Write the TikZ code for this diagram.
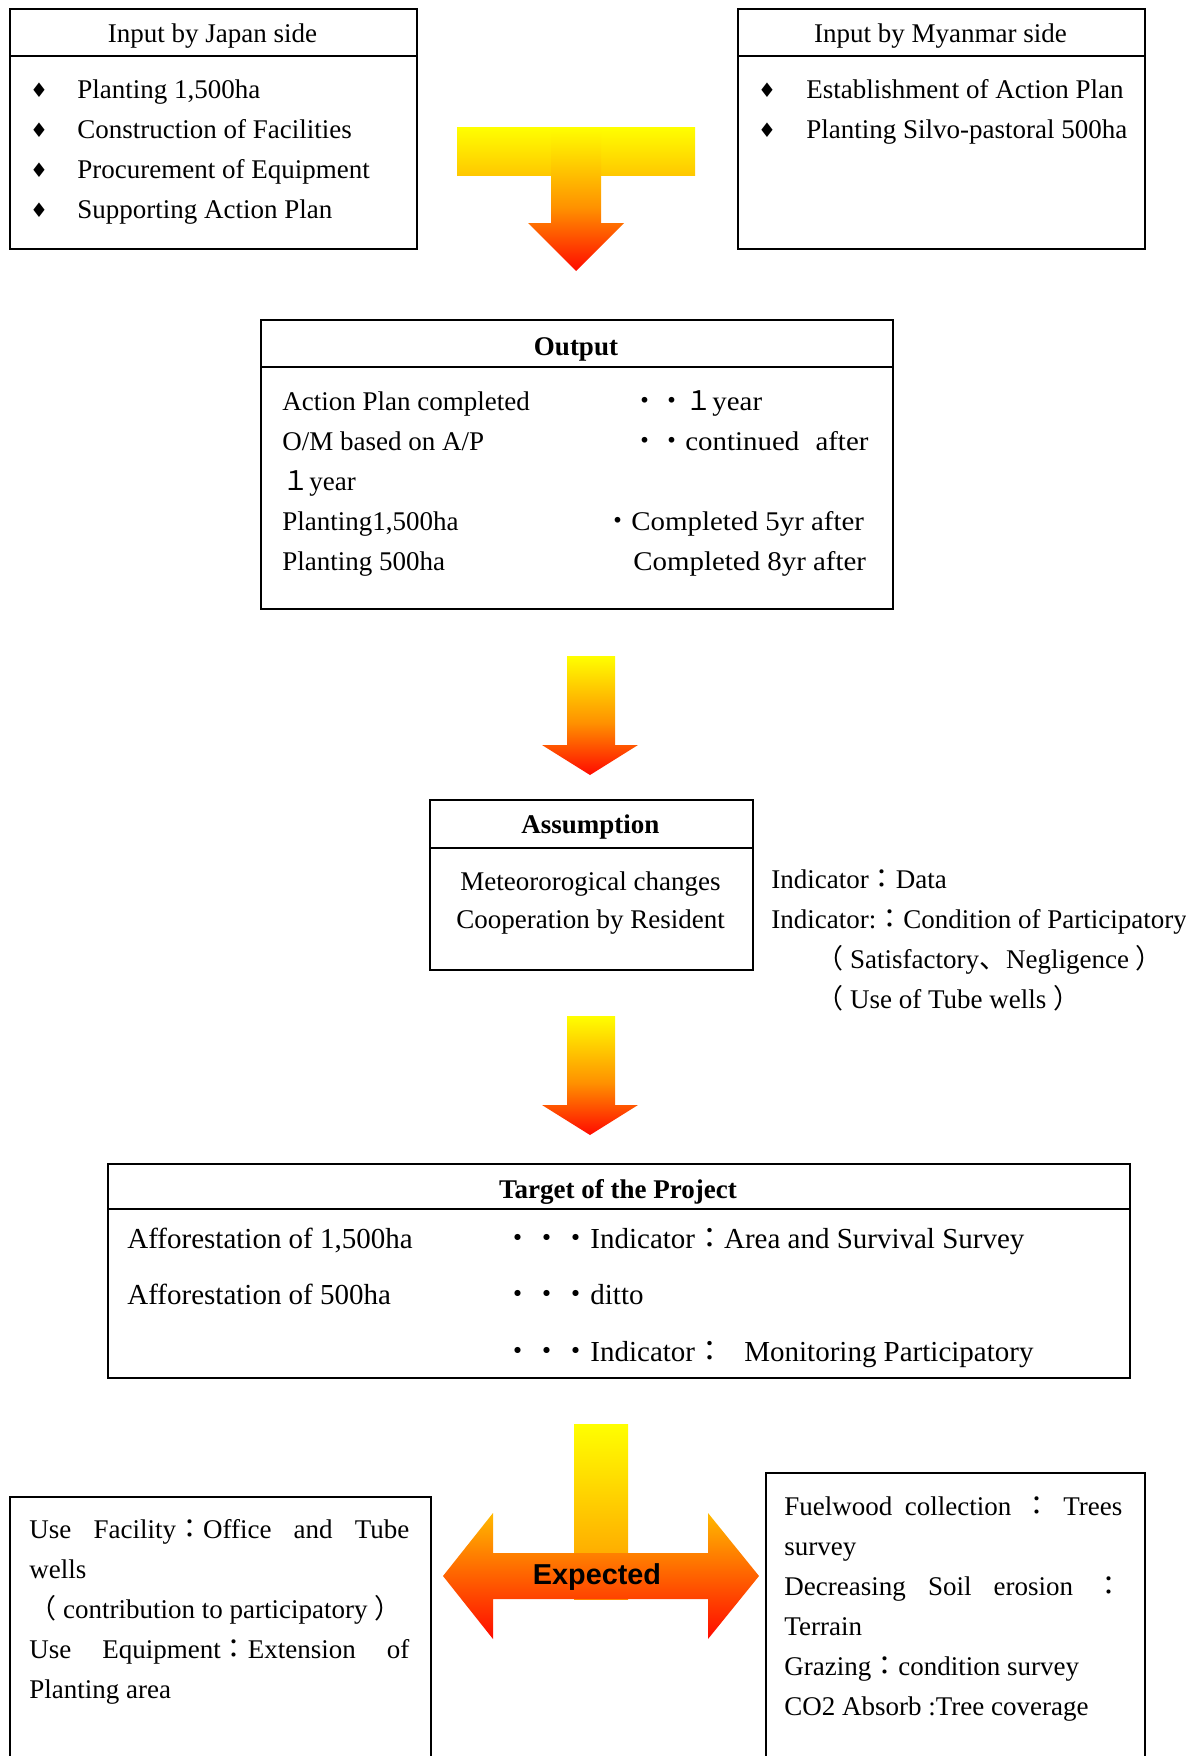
\documentclass[tikz,border=0pt]{standalone}
\usepackage{fontspec}
\setmainfont{Liberation Serif}
\newfontfamily\jpfont{Noto Sans CJK JP}
\newfontfamily\symfont{DejaVu Sans}
\newfontfamily\arialfont{Liberation Sans}
\newcommand{\jc}[1]{{\jpfont #1}}
\usepackage{tikz}
\usetikzlibrary{positioning}
\definecolor{fireyellow}{RGB}{255,255,0}
\definecolor{firegold}{RGB}{255,200,0}
\definecolor{fireamber}{RGB}{255,185,0}
\definecolor{fireorange}{RGB}{255,145,0}
\definecolor{firered}{RGB}{255,10,0}
\pgfdeclareverticalshading{fire}{100bp}{color(0bp)=(firered); color(25bp)=(firered); color(47bp)=(fireorange); color(75bp)=(fireyellow); color(100bp)=(fireyellow)}

\begin{document}
\begin{tikzpicture}[x=0.5pt, y=-0.5pt,
    box/.style={draw, line width=0.9pt, inner sep=0pt},
    divider/.style={line width=0.9pt},
    headtxt/.style={anchor=base, inner sep=0pt, font=\fontsize{13.5}{20}\selectfont},
    headbf/.style={headtxt, font=\fontsize{13.5}{20}\selectfont\bfseries},
    item/.style={anchor=base west, inner sep=0pt, font=\fontsize{13.5}{20}\selectfont},
    wideitem/.style={item, font=\fontsize{13.5}{20}\selectfont\addfontfeatures{FakeStretch=1.07}},
    bigitem/.style={item, font=\fontsize{14.5}{20}\selectfont},
    bullet/.style={inner sep=0pt, font=\symfont\fontsize{10}{10}\selectfont},
    para/.style={anchor=base west, inner sep=0pt, align=justify, font=\fontsize{13.5}{20}\selectfont},
]
    \path[use as bounding box] (0,0) rectangle (1186,1756);
    \clip (0,0) rectangle (1186,1756);

    \node[box, anchor=north west, minimum width=203.5pt, minimum height=120pt] (japan) at (9,8) {};
    \node[box, anchor=north west, minimum width=203.5pt, minimum height=120pt] (myanmar) at (737,8) {};
    \draw[divider] ([yshift=-24pt]japan.north west) -- ([yshift=-24pt]japan.north east);
    \draw[divider] ([yshift=-24pt]myanmar.north west) -- ([yshift=-24pt]myanmar.north east);
    \node[headtxt] (japanhead) at (212.5,42) {Input by Japan side};
    \node[headtxt] (myanmarhead) at (940.5,42) {Input by Myanmar side};
    \foreach \txt [count=\i] in {{Planting 1,500ha}, Construction of Facilities, Procurement of Equipment, Supporting Action Plan} {
        \node[bullet] (japanbul\i) at (39,50+40*\i) {♦};
        \node[item] (japanitem\i) at (77,58+40*\i) {\txt};
    }
    \foreach \txt [count=\i] in {Establishment of Action Plan, Planting Silvo-pastoral 500ha} {
        \node[bullet] (myanmarbul\i) at (767,50+40*\i) {♦};
        \node[item] (myanmaritem\i) at (806,58+40*\i) {\txt};
    }

    \shade[top color=fireyellow, bottom color=firegold] (457,127) rectangle (695,175);
    \shade[shading=fire] (551,127) -- (601,127) -- (601,223) -- (624,223) -- (576,271) -- (528,223) -- (551,223) -- cycle;

    \node[box, anchor=north west, minimum width=316pt, minimum height=144.5pt] (output) at (260,319) {};
    \draw[divider] ([yshift=-24pt]output.north west) -- ([yshift=-24pt]output.north east);
    \node[headbf] (outputhead) at (576,355) {Output};
    \foreach \txt [count=\i] in {Action Plan completed, O/M based on A/P, \jc{１}year, {Planting1,500ha}, Planting 500ha}
        \node[item] (outputleft\i) at (282,370+40*\i) {\txt};
    \node[wideitem] (outputright1) at (631,410) {\jc{・・１}year};
    \node[wideitem] (outputright2) at (631,450) {\jc{・・}continued\hspace{0.6em}after};
    \node[wideitem] (outputright4) at (604,530) {\jc{・}Completed 5yr after};
    \node[wideitem] (outputright5) at (633,570) {Completed 8yr after};

    \foreach \ytop/\yhead/\ytip in {656/745/775, 1016/1105/1135}
        \shade[shading=fire] (567,\ytop) -- (615,\ytop) -- (615,\yhead) -- (638,\yhead) -- (590,\ytip) -- (542,\yhead) -- (567,\yhead) -- cycle;

    \node[box, anchor=north west, minimum width=161.5pt, minimum height=85pt] (assumption) at (429,799) {};
    \draw[divider] ([yshift=-24.5pt]assumption.north west) -- ([yshift=-24.5pt]assumption.north east);
    \node[headbf] (assumptionhead) at (590.5,833) {Assumption};
    \node[headtxt] (assumption1) at (590.5,890) {Meteororogical changes};
    \node[headtxt] (assumption2) at (590.5,928) {Cooperation by Resident};

    \node[item] (indicator1) at (771,888) {Indicator\jc{：}Data};
    \node[item] (indicator2) at (771,928) {Indicator:\jc{：}Condition of Participatory};
    \node[item] (indicator3) at (816,968) {\jc{（} Satisfactory\jc{、}Negligence \jc{）}};
    \node[item] (indicator4) at (816,1008) {\jc{（} Use of Tube wells \jc{）}};

    \node[box, anchor=north west, minimum width=511pt, minimum height=107pt] (target) at (107,1163) {};
    \draw[divider] ([yshift=-23pt]target.north west) -- ([yshift=-23pt]target.north east);
    \node[headbf] (targethead) at (618,1198) {Target of the Project};
    \node[bigitem] (targetleft1) at (127,1248) {Afforestation of 1,500ha};
    \node[bigitem] (targetleft2) at (127,1304) {Afforestation of 500ha};
    \node[bigitem] (targetright1) at (503,1248) {\jc{・・・}Indicator\jc{：}Area and Survival Survey};
    \node[bigitem] (targetright2) at (503,1304) {\jc{・・・}ditto};
    \node[bigitem] (targetright3) at (503,1361) {\jc{・・・}Indicator\jc{：}\hspace{0.7em}Monitoring Participatory};

    \shade[top color=fireyellow, bottom color=fireorange] (574,1424) rectangle (628,1599);
    \shade[top color=fireamber, middle color=fireorange, bottom color=firered] (443,1576) -- (493,1513) -- (493,1553) -- (708,1553) -- (708,1513) -- (759,1576) -- (708,1639) -- (708,1599) -- (493,1599) -- (493,1639) -- cycle;
    \node[font=\arialfont\bfseries\fontsize{14.4}{16}\selectfont, anchor=base, inner sep=0pt] (expected) at (597,1584) {Expected};

    \node[box, anchor=north west, minimum width=210.5pt, minimum height=160pt] (useleft) at (9,1496) {};
    \node[box, anchor=north west, minimum width=189.5pt, minimum height=172pt] (useright) at (765,1472) {};
    \node[para, text width=190pt] (uselefttxt) at (29,1538) {Use Facility\jc{：}Office and Tube\linebreak wells\\ \jc{（} contribution to participatory \jc{）}\\ Use Equipment\jc{：}Extension of\linebreak Planting area};
    \node[para, text width=169pt] (userighttxt) at (784,1515) {Fuelwood collection \jc{：} Trees\linebreak survey\\ Decreasing Soil erosion \jc{：}\linebreak Terrain\\ Grazing\jc{：}condition survey\\ CO2 Absorb :Tree coverage};
\end{tikzpicture}
\end{document}
